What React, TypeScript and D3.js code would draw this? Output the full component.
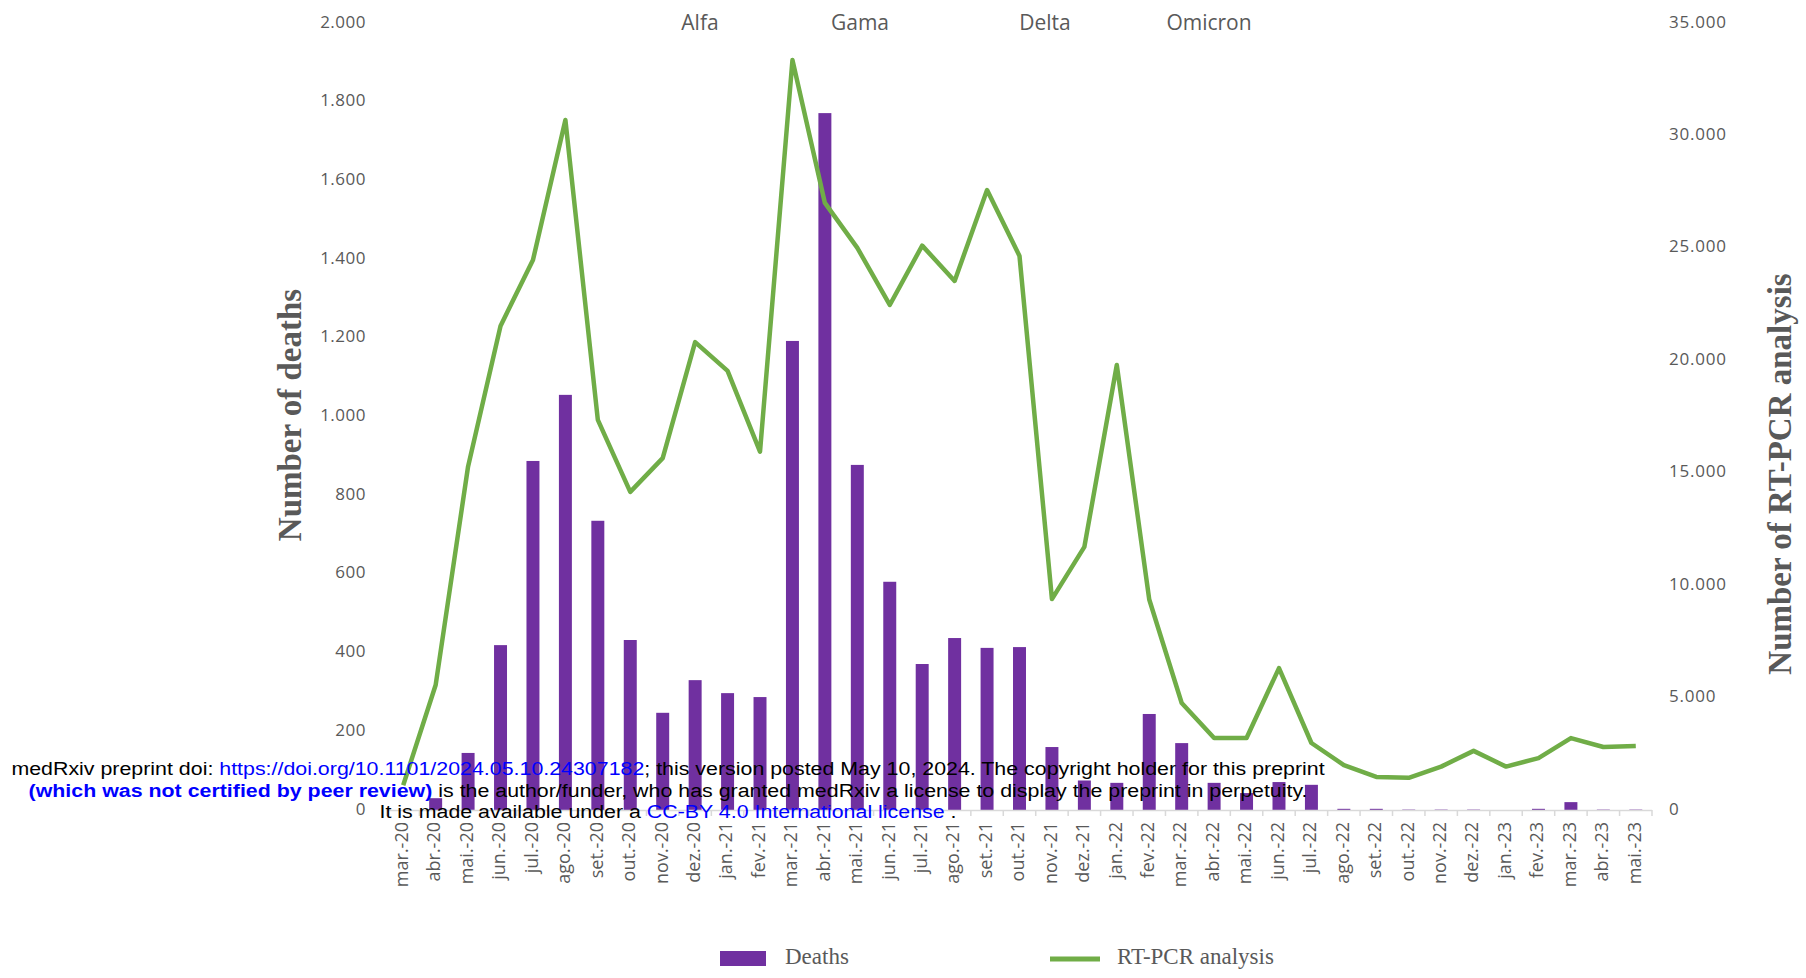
import React from "react";
import * as d3 from "d3";

const months = [
  "mar.-20","abr.-20","mai.-20","jun.-20","jul.-20","ago.-20","set.-20","out.-20","nov.-20","dez.-20",
  "jan.-21","fev.-21","mar.-21","abr.-21","mai.-21","jun.-21","jul.-21","ago.-21","set.-21","out.-21",
  "nov.-21","dez.-21","jan.-22","fev.-22","mar.-22","abr.-22","mai.-22","jun.-22","jul.-22","ago.-22",
  "set.-22","out.-22","nov.-22","dez.-22","jan.-23","fev.-23","mar.-23","abr.-23","mai.-23",
];
const deaths = [
  0, 30, 145, 419, 887, 1055, 735, 432, 247, 330,
  297, 287, 1192, 1771, 877, 580, 371, 437, 412, 414,
  160, 75, 69, 244, 170, 69, 43, 71, 64, 3,
  3, 1, 1, 1, 0, 3, 20, 1, 1,
];
const rtpcr = [
  1100, 5560, 15280, 21530, 24460, 30690, 17350, 14150, 15650, 20810,
  19530, 15940, 33350, 27000, 25000, 22460, 25100, 23530, 27570, 24640,
  9380, 11700, 19790, 9360, 4760, 3200, 3200, 6310, 2980, 2000,
  1470, 1430, 1930, 2630, 1930, 2310, 3200, 2800, 2850,
];
const leftTicks = [0, 200, 400, 600, 800, 1000, 1200, 1400, 1600, 1800, 2000];
const rightTicks = [0, 5000, 10000, 15000, 20000, 25000, 30000, 35000];
const variants = ["Alfa", "Gama", "Delta", "Omicron"];

const W = 1806, H = 978;
const PURPLE = "#7030A0";
const GREEN = "#70AD47";
const GRAY = "#595959";

const fmt = d3.formatLocale({ decimal: ",", thousands: ".", grouping: [3], currency: ["", ""] }).format(",");

export default function App() {
  const x = d3.scaleBand<string>().domain(months).range([387, 1652]).paddingInner(0.6).paddingOuter(0.3);
  const xc = (m: string) => (x(m) as number) + x.bandwidth() / 2;
  const step = x.step();
  const yL = d3.scaleLinear().domain([0, 2000]).range([810, 23]);
  const yR = d3.scaleLinear().domain([0, 35000]).range([810, 23]);
  const line = d3.line<number>().x((_, i) => xc(months[i])).y((v) => yR(v));

  const variantX: Record<string, number> = { Alfa: 700, Gama: 860, Delta: 1045, Omicron: 1209 };

  return (
    <svg width={W} height={H} style={{ position: "absolute", left: 0, top: 0, background: "#fff" }}>
      {leftTicks.map((t) => (
        <text key={"l" + t} x={366} y={yL(t)} textAnchor="end" dominantBaseline="middle"
          fontFamily="Open Sans, sans-serif" fontSize={17} letterSpacing={0.5} fill={GRAY}>{fmt(t)}</text>
      ))}
      {rightTicks.map((t) => (
        <text key={"r" + t} x={1669} y={yR(t)} textAnchor="start" dominantBaseline="middle"
          fontFamily="Open Sans, sans-serif" fontSize={17} letterSpacing={0.8} fill={GRAY}>{fmt(t)}</text>
      ))}
      <text transform={`translate(293,415) rotate(-90)`} textAnchor="middle" dominantBaseline="middle"
        fontFamily="Liberation Serif, serif" fontWeight="bold" fontSize={33} fill={GRAY}>Number of deaths</text>
      <text transform={`translate(1783,474) rotate(-90)`} textAnchor="middle" dominantBaseline="middle"
        fontFamily="Liberation Serif, serif" fontWeight="bold" fontSize={33} fill={GRAY}>Number of RT-PCR analysis</text>
      {variants.map((v) => (
        <text key={v} x={variantX[v]} y={24} textAnchor="middle" dominantBaseline="middle"
          fontFamily="Open Sans, sans-serif" fontSize={21} fill={GRAY}>{v}</text>
      ))}
      {deaths.map((d, i) => (
        <rect key={"b" + i} x={x(months[i])} y={yL(d)} width={x.bandwidth()} height={Math.max(0, 810 - yL(d))} fill={PURPLE} />
      ))}
      <line x1={387} x2={1652} y1={810.5} y2={810.5} stroke="#d9d9d9" strokeWidth={1.5} />
      {months.map((m, i) => (
        <line key={"t" + i} x1={xc(m) - step / 2} x2={xc(m) - step / 2} y1={810} y2={816} stroke="#d9d9d9" strokeWidth={1.5} />
      ))}
      <line x1={1652} x2={1652} y1={810} y2={816} stroke="#d9d9d9" strokeWidth={1.5} />
      {months.map((m) => (
        <text key={"x" + m} transform={`translate(${xc(m)},822) rotate(-90)`} textAnchor="end" dominantBaseline="middle"
          fontFamily="Open Sans, sans-serif" fontSize={18} fill={GRAY}>{m}</text>
      ))}
      <path d={line(rtpcr) || ""} fill="none" stroke={GREEN} strokeWidth={4.5} strokeLinejoin="round" />
      <rect x={720} y={951} width={46} height={15} fill={PURPLE} />
      <text x={785} y={959} dominantBaseline="middle" fontFamily="Liberation Serif, serif" fontSize={23} fill={GRAY}>Deaths</text>
      <line x1={1050} x2={1100} y1={959} y2={959} stroke={GREEN} strokeWidth={5} />
      <text x={1117} y={959} dominantBaseline="middle" fontFamily="Liberation Serif, serif" fontSize={23} fill={GRAY}>RT-PCR analysis</text>
      <g fontFamily="Liberation Sans, Arial, sans-serif" fontSize={19} textAnchor="middle" transform="translate(668,0) scale(1.125,1)">
        <text x={0} y={775}>
          <tspan fill="#000">medRxiv preprint doi: </tspan>
          <tspan fill="#0000ff">https://doi.org/10.1101/2024.05.10.24307182</tspan>
          <tspan fill="#000">; this version posted May 10, 2024. The copyright holder for this preprint</tspan>
        </text>
        <text x={0} y={797}>
          <tspan fill="#0000ff" fontWeight="bold">(which was not certified by peer review)</tspan>
          <tspan fill="#000"> is the author/funder, who has granted medRxiv a license to display the preprint in perpetuity.</tspan>
        </text>
        <text x={0} y={818}>
          <tspan fill="#000">It is made available under a </tspan>
          <tspan fill="#0000ff">CC-BY 4.0 International license</tspan>
          <tspan fill="#000"> .</tspan>
        </text>
      </g>
    </svg>
  );
}
